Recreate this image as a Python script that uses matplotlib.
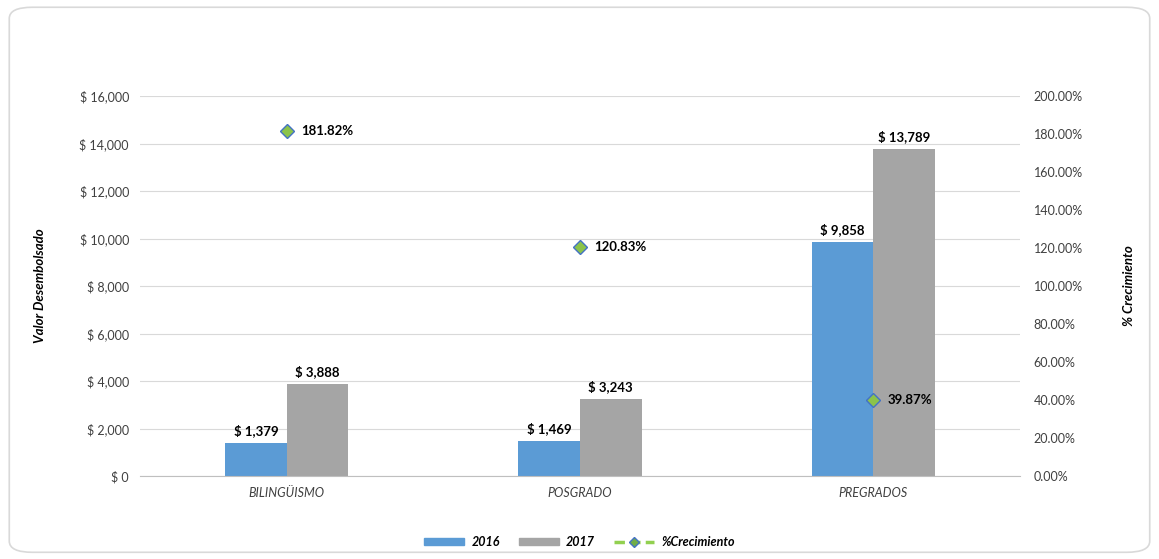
import numpy as np
from matplotlib import pyplot as plt
from matplotlib.patches import FancyBboxPatch
from matplotlib.lines import Line2D
from matplotlib.patches import Patch

# datos del grafico
categorias = ['BILINGÜISMO', 'POSGRADO', 'PREGRADOS']
valor_2016 = [1379, 1469, 9858]
valor_2017 = [3888, 3243, 13789]
crecimiento = [181.82, 120.83, 39.87]

azul = '#5B9BD5'
gris = '#A5A5A5'
verde = '#8BC34A'

plt.rcParams['font.family'] = ['Lato', 'DejaVu Sans']

fig = plt.figure(figsize=(11.59, 5.59), dpi=100)
fig.patches.append(FancyBboxPatch((0.008, 0.012), 0.984, 0.975,
                                  boxstyle='round,pad=0,rounding_size=0.02',
                                  transform=fig.transFigure, fill=False,
                                  edgecolor='#D9D9D9', linewidth=1.2))

ax = fig.add_axes([0.1208, 0.1485, 0.7592, 0.6795])
x = np.arange(len(categorias))
w = 0.21

b1 = ax.bar(x - w/2, valor_2016, w, color=azul, zorder=2)
b2 = ax.bar(x + w/2, valor_2017, w, color=gris, zorder=2)

ax.set_ylim(0, 16000)
ax.set_xlim(-0.5, 2.5)
ax.set_yticks(np.arange(0, 16001, 2000))
ax.set_yticklabels(['$ {:,}'.format(v) for v in range(0, 16001, 2000)])
ax.set_xticks(x)
ax.set_xticklabels(categorias, fontstyle='italic')
ax.grid(axis='y', color='#D9D9D9', linewidth=0.8, zorder=0)
for s in ['top', 'right', 'left']:
    ax.spines[s].set_visible(False)
ax.spines['bottom'].set_color('#BFBFBF')
ax.tick_params(axis='both', length=0, labelsize=9, colors='#404040', pad=8)
ax.set_ylabel('Valor Desembolsado', fontsize=9.5, fontweight='bold',
              fontstyle='italic', labelpad=24)

for bars in (b1, b2):
    for b in bars:
        h = b.get_height()
        ax.text(b.get_x() + b.get_width()/2, h + 250, '$ {:,}'.format(h),
                ha='center', va='bottom', fontsize=9.5, fontweight='bold')

ax2 = ax.twinx()
ax2.set_ylim(0, 200)
ax2.set_yticks(np.arange(0, 201, 20))
ax2.set_yticklabels(['{:.2f}%'.format(v) for v in range(0, 201, 20)])
for s in ['top', 'right', 'left', 'bottom']:
    ax2.spines[s].set_visible(False)
ax2.tick_params(axis='y', length=0, labelsize=9, colors='#404040', pad=10)
ax2.plot(x, crecimiento, linestyle='none', marker='D', markersize=7,
         markerfacecolor=verde, markeredgecolor='#4472C4', markeredgewidth=1,
         zorder=3)
for xi, c in zip(x, crecimiento):
    ax2.text(xi + 0.05, c, '{:.2f}%'.format(c), ha='left', va='center',
             fontsize=9.5, fontweight='bold')
ax2.set_ylabel('% Crecimiento', fontsize=9.5, fontweight='bold',
               fontstyle='italic', rotation=90, labelpad=29)

handles = [Patch(color=azul), Patch(color=gris),
           Line2D([0], [0], color='#92D050', linestyle=(0, (3, 1.5)),
                  linewidth=2.5, marker='D', markersize=5,
                  markerfacecolor='#70AD47', markeredgecolor='#4472C4')]
fig.legend(handles, ['2016', '2017', '%Crecimiento'], loc='center',
           bbox_to_anchor=(0.5, 0.03), ncol=3, frameon=False,
           prop={'size': 9, 'weight': 'bold', 'style': 'italic'},
           handlelength=3.2, handleheight=0.5, columnspacing=1.5,
           handletextpad=0.6)

plt.savefig('out.png', dpi=100)
